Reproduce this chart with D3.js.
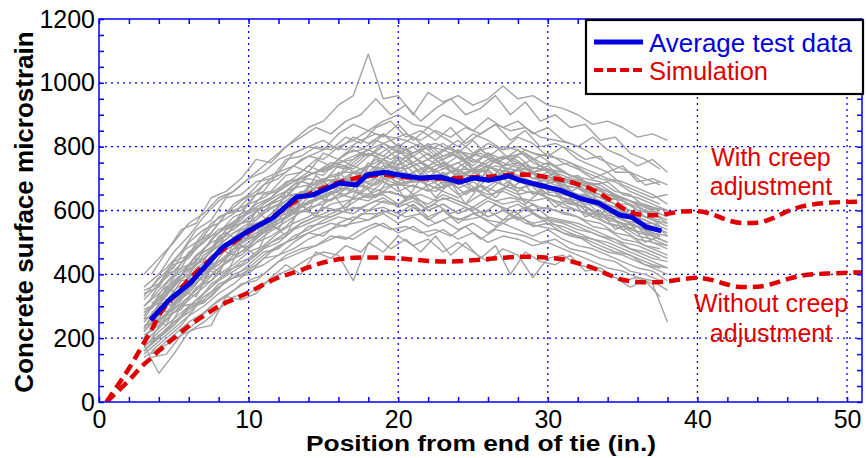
<!DOCTYPE html>
<html lang="en">
<meta charset="UTF-8">
<style>
    body { margin: 0; background: white; }
    text { font-family: "Liberation Sans", Arial, Helvetica, sans-serif; }
    .grid line { stroke: #0000ff; stroke-width: 1.3px; stroke-dasharray: 2,4; }
    .gray { fill: none; stroke: #a3a3a3; stroke-width: 1.4px; stroke-linejoin: round; }
</style>
<body>
<svg width="867" height="458" id="chart"></svg>
<script src="https://d3js.org/d3.v7.min.js"></script>
<script>
// ---- data ----
const xTicks = [0, 10, 20, 30, 40, 50];
const yTicks = [0, 200, 400, 600, 800, 1000, 1200];

// average test data (blue)
const avgX = [3.45, 4.7, 6.1, 7.4, 8.3, 10.1, 11.6, 13.2, 14.3, 16.1, 17.2, 17.9, 19.1, 20.1, 21.4, 22.8, 24.1, 25.1, 26.1, 27.4, 28.1, 29.4, 30.8, 32.1, 33.4, 34.8, 35.6, 36.6, 37.6];
const avgY = [257, 320, 373, 440, 486, 539, 576, 642, 649, 686, 680, 711, 720, 711, 702, 705, 689, 702, 695, 708, 695, 680, 664, 639, 623, 586, 579, 548, 536];

// simulation curves (red dashed)
const simX = [0.5, 1, 2, 3, 3.5, 4, 5, 6, 7, 8, 9, 10, 11, 12, 13, 14, 15, 16, 17, 18, 19, 20, 21, 22, 23, 24, 25, 26, 27, 28, 29, 30, 31, 32, 33, 34, 35, 36, 37, 38, 39, 40, 41, 42, 43, 44, 45, 46, 47, 48, 49, 50, 51];
const simCreep = [0, 35, 105, 185, 225, 270, 330, 383, 428, 467, 500, 532, 562, 592, 625, 650, 670, 688, 700, 708, 712, 707, 702, 700, 700, 702, 704, 706, 710, 713, 711, 704, 695, 682, 665, 638, 608, 588, 585, 590, 597, 598, 588, 570, 561, 562, 575, 597, 613, 621, 625, 627, 628];
const simNoCreep = [0, 22, 68, 118, 138, 160, 200, 238, 270, 300, 322, 343, 368, 390, 405, 422, 437, 447, 452, 453, 452, 450, 446, 442, 440, 441, 444, 448, 452, 455, 455, 452, 447, 435, 420, 400, 383, 376, 375, 378, 385, 389, 382, 368, 360, 361, 370, 385, 396, 401, 403, 405, 406];

// individual gage readings (gray), gages on whole-inch positions
const grayX = [3, 4, 5, 6, 7, 8, 9, 10, 11, 12, 13, 14, 15, 16, 17, 18, 19, 20, 21, 22, 23, 24, 25, 26, 27, 28, 29, 30, 31, 32, 33, 34, 35, 36, 37, 38];
const gray01 = [360, 400, 470, 520, 580, 630, 660, 700, 740, 780, 820, 860, 880, 930, 960, 1090, 950, 960, 900, 970, 940, 960, 930, 950, 990, 950, 960, 930, 920, 900, 870, 880, 860, 830, 840, 820];
const gray02 = [330, 390, 420, 500, 540, 560, 620, 650, 700, 720, 780, 800, 790, 840, 870, 850, 880, 900, 870, 860, 900, 880, 850, 890, 860, 880, 840, 860, 820, 800, 830, 790, 770, 740, 760, 720];
const gray03 = [300, 350, 400, 470, 500, 560, 590, 640, 660, 720, 740, 770, 760, 800, 820, 850, 830, 870, 820, 860, 830, 800, 840, 820, 790, 830, 810, 770, 800, 760, 740, 720, 740, 690, 700, 680];
const gray04 = [350, 370, 440, 460, 520, 580, 600, 620, 680, 700, 740, 720, 780, 760, 800, 790, 840, 800, 830, 790, 810, 780, 820, 770, 800, 790, 760, 780, 750, 730, 700, 720, 680, 660, 640, 650];
const gray05 = [280, 320, 390, 430, 480, 530, 560, 620, 640, 670, 700, 740, 720, 760, 790, 770, 810, 780, 800, 760, 790, 770, 740, 780, 760, 790, 750, 730, 720, 700, 680, 690, 650, 640, 620, 600];
const gray06 = [260, 330, 360, 430, 440, 520, 540, 580, 610, 640, 680, 700, 690, 740, 730, 770, 800, 760, 770, 740, 760, 780, 730, 750, 770, 740, 760, 720, 700, 710, 670, 660, 640, 620, 600, 580];
const gray07 = [250, 300, 370, 400, 460, 490, 530, 560, 600, 620, 670, 680, 700, 710, 740, 720, 760, 740, 770, 730, 750, 720, 760, 740, 720, 750, 720, 700, 690, 680, 650, 630, 610, 590, 570, 560];
const gray08 = [230, 290, 330, 390, 430, 480, 510, 550, 570, 610, 650, 660, 690, 700, 690, 740, 730, 760, 720, 740, 710, 730, 700, 740, 710, 730, 700, 690, 670, 650, 640, 610, 590, 570, 550, 530];
const gray09 = [220, 270, 330, 350, 420, 470, 500, 520, 560, 590, 620, 650, 660, 680, 700, 690, 720, 700, 710, 690, 720, 680, 700, 690, 720, 690, 680, 670, 650, 640, 620, 600, 570, 560, 530, 520];
const gray10 = [240, 250, 300, 360, 390, 440, 480, 510, 530, 580, 600, 620, 650, 660, 680, 670, 700, 680, 690, 700, 670, 690, 660, 700, 680, 660, 690, 650, 640, 620, 600, 570, 560, 530, 520, 500];
const gray11 = [200, 260, 290, 330, 380, 420, 460, 480, 520, 550, 580, 610, 620, 650, 640, 670, 660, 690, 650, 680, 660, 640, 670, 650, 660, 640, 630, 640, 610, 600, 580, 560, 540, 510, 500, 480];
const gray12 = [190, 230, 280, 320, 360, 400, 430, 470, 490, 530, 560, 580, 610, 600, 640, 630, 660, 650, 640, 620, 650, 630, 610, 640, 620, 630, 600, 610, 590, 580, 550, 540, 510, 500, 480, 460];
const gray13 = [170, 220, 260, 300, 340, 380, 410, 440, 480, 500, 540, 560, 580, 600, 590, 620, 640, 610, 630, 600, 620, 590, 610, 580, 600, 620, 590, 570, 560, 540, 530, 510, 490, 470, 450, 440];
const gray14 = [160, 200, 250, 280, 330, 360, 400, 420, 460, 490, 510, 550, 560, 580, 570, 600, 610, 590, 620, 580, 600, 570, 590, 600, 570, 580, 560, 570, 540, 520, 510, 490, 470, 450, 430, 420];
const gray15 = [150, 190, 230, 270, 300, 340, 370, 410, 430, 460, 480, 510, 530, 550, 560, 570, 590, 560, 580, 550, 570, 540, 560, 530, 560, 540, 520, 540, 510, 490, 480, 460, 440, 420, 410, 380];
const gray16 = [140, 170, 210, 250, 280, 320, 350, 380, 400, 440, 460, 480, 500, 520, 510, 540, 560, 530, 550, 520, 540, 510, 530, 500, 520, 510, 490, 500, 480, 460, 440, 420, 410, 390, 380, 350];
const gray17 = [180, 90, 150, 220, 250, 290, 330, 340, 370, 400, 420, 450, 470, 460, 380, 500, 470, 520, 490, 510, 470, 500, 470, 440, 480, 460, 390, 450, 460, 430, 420, 400, 380, 390, 370, 250];
const gray18 = [400, 450, 500, 560, 590, 640, 660, 700, 720, 760, 780, 800, 820, 790, 830, 810, 840, 800, 780, 810, 770, 790, 760, 740, 770, 750, 720, 740, 700, 690, 660, 640, 630, 600, 590, 560];
const gray19 = [210, 240, 280, 330, 370, 420, 450, 490, 530, 560, 600, 640, 660, 690, 720, 740, 760, 790, 770, 800, 790, 820, 780, 810, 790, 800, 780, 770, 760, 740, 720, 700, 690, 670, 650, 620];
const gray20 = [320, 370, 410, 460, 500, 540, 560, 600, 610, 640, 650, 660, 640, 670, 660, 640, 650, 620, 640, 600, 620, 590, 610, 580, 600, 570, 590, 560, 550, 530, 510, 500, 480, 460, 440, 420];
const gray21 = [270, 330, 310, 400, 380, 480, 460, 560, 530, 620, 590, 680, 640, 720, 680, 750, 700, 760, 690, 740, 680, 720, 660, 730, 680, 710, 650, 680, 630, 620, 580, 600, 540, 550, 500, 490];
const gray22 = [230, 310, 300, 370, 420, 400, 500, 480, 560, 540, 630, 600, 690, 660, 720, 700, 760, 720, 740, 700, 750, 700, 730, 690, 740, 700, 720, 660, 690, 640, 630, 590, 600, 560, 560, 520];
const gray23 = [180, 200, 240, 300, 310, 360, 390, 400, 450, 460, 500, 530, 520, 560, 580, 570, 600, 580, 610, 570, 600, 560, 590, 570, 560, 590, 550, 560, 530, 520, 490, 470, 460, 440, 420, 400];
const gray24 = [300, 340, 380, 420, 470, 500, 550, 570, 620, 650, 670, 710, 730, 750, 760, 790, 770, 810, 780, 800, 760, 790, 750, 780, 740, 770, 730, 750, 720, 700, 680, 660, 630, 610, 590, 570];
const gray25 = [260, 280, 350, 380, 410, 470, 490, 540, 550, 600, 610, 660, 680, 670, 720, 710, 740, 730, 750, 720, 740, 710, 730, 720, 700, 730, 700, 710, 680, 670, 640, 620, 600, 580, 560, 540];
const gray26 = [200, 250, 310, 340, 400, 430, 470, 500, 540, 560, 590, 600, 630, 640, 660, 650, 690, 660, 680, 660, 690, 650, 670, 640, 670, 650, 660, 640, 620, 600, 590, 560, 550, 520, 510, 490];
const gray27 = [340, 360, 430, 450, 510, 530, 580, 600, 650, 660, 690, 720, 710, 760, 740, 780, 760, 790, 750, 780, 740, 770, 730, 760, 740, 750, 720, 730, 700, 690, 680, 650, 640, 620, 610, 600];
const gray28 = [160, 210, 240, 290, 320, 370, 390, 430, 470, 480, 520, 540, 570, 590, 610, 600, 630, 620, 650, 610, 640, 620, 600, 630, 610, 590, 620, 580, 570, 560, 540, 520, 500, 490, 470, 450];
const gray29 = [290, 310, 360, 410, 450, 490, 530, 550, 590, 620, 640, 670, 700, 690, 720, 740, 730, 770, 740, 760, 730, 750, 720, 740, 710, 730, 700, 720, 680, 670, 650, 630, 610, 590, 570, 550];
const gray30 = [220, 280, 290, 350, 400, 430, 480, 490, 540, 570, 590, 630, 640, 660, 690, 670, 710, 690, 720, 680, 700, 670, 690, 660, 700, 670, 680, 650, 640, 630, 600, 580, 560, 550, 520, 500];

// gages on half-inch positions
const grayHalfX = [3.5, 4.5, 5.5, 6.5, 7.5, 8.5, 9.5, 10.5, 11.5, 12.5, 13.5, 14.5, 15.5, 16.5, 17.5, 18.5, 19.5, 20.5, 21.5, 22.5, 23.5, 24.5, 25.5, 26.5, 27.5, 28.5, 29.5, 30.5, 31.5, 32.5, 33.5, 34.5, 35.5, 36.5, 37.5];
const half01 = [400, 470, 540, 560, 640, 660, 700, 760, 750, 800, 830, 860, 840, 880, 900, 950, 900, 930, 880, 920, 950, 900, 920, 960, 900, 940, 880, 900, 860, 870, 820, 830, 780, 760, 730];
const half02 = [380, 420, 470, 540, 570, 640, 650, 690, 700, 760, 770, 800, 790, 830, 810, 860, 880, 830, 850, 820, 860, 810, 840, 870, 820, 850, 800, 810, 790, 760, 770, 720, 720, 680, 690];
const half03 = [330, 400, 420, 500, 530, 590, 600, 650, 660, 710, 720, 760, 740, 780, 790, 820, 800, 790, 810, 770, 800, 760, 790, 800, 760, 790, 770, 740, 750, 720, 700, 690, 660, 640, 620];
const half04 = [300, 370, 420, 440, 510, 550, 580, 610, 640, 690, 700, 720, 740, 730, 770, 780, 760, 790, 750, 770, 740, 760, 780, 750, 770, 740, 730, 720, 700, 690, 680, 650, 630, 620, 600];
const half05 = [310, 330, 400, 430, 470, 540, 560, 570, 620, 640, 690, 680, 710, 720, 720, 760, 740, 730, 750, 720, 740, 710, 740, 730, 720, 730, 710, 700, 690, 660, 650, 620, 620, 580, 570];
const half06 = [260, 320, 350, 420, 450, 490, 540, 540, 590, 610, 660, 640, 690, 680, 700, 730, 700, 720, 690, 710, 680, 710, 690, 700, 720, 690, 690, 660, 660, 620, 620, 590, 580, 550, 540];
const half07 = [250, 270, 340, 370, 430, 450, 510, 520, 540, 600, 610, 640, 630, 670, 660, 700, 680, 680, 670, 660, 690, 650, 680, 660, 680, 660, 650, 630, 620, 610, 580, 570, 540, 530, 510];
const half08 = [200, 270, 290, 360, 380, 440, 460, 500, 520, 550, 600, 590, 620, 630, 640, 650, 660, 640, 650, 630, 640, 620, 650, 630, 640, 630, 610, 600, 590, 570, 560, 530, 520, 490, 480];
const half09 = [190, 220, 300, 310, 370, 400, 440, 460, 500, 520, 560, 580, 580, 600, 610, 630, 620, 620, 600, 620, 590, 610, 580, 620, 590, 610, 580, 570, 560, 540, 520, 510, 480, 470, 450];
const half10 = [160, 200, 240, 300, 330, 380, 400, 430, 470, 500, 520, 540, 560, 550, 590, 590, 600, 580, 590, 560, 580, 570, 580, 550, 590, 560, 550, 540, 520, 510, 490, 470, 460, 430, 420];
const half11 = [140, 150, 210, 250, 300, 330, 370, 380, 420, 460, 480, 490, 520, 510, 540, 560, 540, 550, 530, 540, 520, 550, 510, 540, 530, 520, 500, 510, 480, 470, 450, 440, 410, 400, 380];
const half12 = [250, 360, 330, 450, 440, 530, 500, 600, 560, 660, 630, 710, 670, 740, 700, 770, 720, 770, 710, 760, 720, 750, 700, 760, 710, 750, 690, 720, 660, 680, 620, 640, 580, 600, 550];
const half13 = [260, 240, 350, 330, 420, 400, 490, 460, 560, 520, 620, 580, 660, 600, 690, 640, 710, 630, 700, 640, 690, 620, 680, 640, 690, 620, 660, 610, 640, 580, 600, 540, 560, 500, 520];
const half14 = [360, 410, 470, 500, 560, 590, 630, 660, 700, 720, 760, 780, 800, 790, 820, 840, 830, 820, 800, 810, 790, 780, 770, 760, 740, 730, 700, 690, 660, 640, 610, 590, 560, 540, 520];
const half15 = [180, 230, 270, 320, 360, 410, 430, 470, 500, 530, 560, 580, 600, 610, 640, 660, 680, 690, 700, 710, 720, 730, 720, 740, 730, 720, 710, 700, 690, 680, 660, 640, 630, 600, 590];
const half16 = [150, 180, 210, 230, 240, 330, 320, 340, 390, 430, 400, 470, 450, 490, 470, 520, 480, 510, 470, 520, 460, 500, 450, 490, 400, 470, 440, 430, 460, 410, 420, 390, 360, 380, 330];
const half17 = [300, 340, 400, 460, 500, 520, 580, 600, 620, 660, 700, 720, 730, 760, 780, 800, 820, 840, 820, 850, 830, 860, 840, 870, 850, 860, 830, 820, 810, 790, 760, 740, 720, 700, 680];
const half18 = [280, 310, 380, 390, 460, 480, 520, 560, 570, 620, 640, 670, 670, 700, 690, 720, 740, 710, 730, 690, 720, 700, 730, 690, 720, 700, 680, 690, 650, 650, 620, 610, 580, 570, 550];
const half19 = [220, 300, 320, 400, 420, 480, 500, 530, 560, 580, 620, 630, 660, 650, 690, 680, 710, 690, 690, 670, 680, 690, 660, 690, 670, 700, 650, 660, 620, 630, 590, 580, 560, 540, 510];
const half20 = [290, 350, 400, 460, 480, 540, 570, 620, 640, 680, 700, 720, 750, 740, 780, 770, 800, 770, 790, 760, 780, 750, 790, 760, 770, 780, 750, 740, 710, 700, 690, 660, 650, 610, 600];

const graySeries = [gray01, gray02, gray03, gray04, gray05, gray06, gray07, gray08, gray09, gray10,
    gray11, gray12, gray13, gray14, gray15, gray16, gray17, gray18, gray19, gray20,
    gray21, gray22, gray23, gray24, gray25, gray26, gray27, gray28, gray29, gray30];
const grayHalfSeries = [half01, half02, half03, half04, half05, half06, half07, half08, half09, half10,
    half11, half12, half13, half14, half15, half16, half17, half18, half19, half20];

// ---- layout ----
const svg = d3.select('#chart');
const width = 867, height = 458;
const margin = {top: 19, right: 5, bottom: 56, left: 99};
const innerWidth = width - margin.left - margin.right;
const innerHeight = height - margin.top - margin.bottom;

const x = d3.scaleLinear().domain([0, 51]).range([0, innerWidth]);
const y = d3.scaleLinear().domain([0, 1200]).range([innerHeight, 0]);

svg.append('defs').append('clipPath').attr('id', 'clip')
    .append('rect').attr('width', innerWidth).attr('height', innerHeight);

const g = svg.append('g')
    .attr('transform', `translate(${margin.left},${margin.top})`);

// grid
const grid = g.append('g').attr('class', 'grid');
grid.selectAll('.gx').data(xTicks.filter(d => d > 0)).enter().append('line')
    .attr('x1', d => x(d)).attr('x2', d => x(d))
    .attr('y1', 0).attr('y2', innerHeight);
grid.selectAll('.gy').data(yTicks.filter(d => d > 0 && d < 1200)).enter().append('line')
    .attr('y1', d => y(d)).attr('y2', d => y(d))
    .attr('x1', 0).attr('x2', innerWidth);

const plot = g.append('g').attr('clip-path', 'url(#clip)');

// gray lines
const grayLine = xs => d3.line().x((d, i) => x(xs[i])).y(d => y(d));
plot.selectAll('.grayA').data(graySeries).enter().append('path')
    .attr('class', 'gray')
    .attr('d', grayLine(grayX));
plot.selectAll('.grayB').data(grayHalfSeries).enter().append('path')
    .attr('class', 'gray')
    .attr('d', grayLine(grayHalfX));

// simulations
const simLine = d3.line().x((d, i) => x(simX[i])).y(d => y(d)).curve(d3.curveMonotoneX);
[simCreep, simNoCreep].forEach(s => {
    plot.append('path')
        .attr('d', simLine(s))
        .attr('fill', 'none')
        .attr('stroke', '#e00000')
        .attr('stroke-width', 4.5)
        .attr('stroke-dasharray', '11,6');
});

// average
const avgLine = d3.line().x((d, i) => x(avgX[i])).y(d => y(d));
plot.append('path')
    .attr('d', avgLine(avgY))
    .attr('fill', 'none')
    .attr('stroke', '#0000dd')
    .attr('stroke-width', 5)
    .attr('stroke-linejoin', 'round');

// axes (ticks inward on all four sides)
const axisColor = '#0000ff';
const xMinor = d3.range(0, 52, 2);
const yMinor = d3.range(0, 1201, 50);

function styleAxis(sel) {
    sel.select('.domain').remove();
    sel.selectAll('line').attr('stroke', axisColor).attr('stroke-width', 1.5);
    sel.selectAll('text').attr('fill', 'black').attr('font-size', '25px');
}
function minorOnly(sel) {
    styleAxis(sel);
    sel.selectAll('text').remove();
}

g.append('g').attr('transform', `translate(0,${innerHeight})`)
    .call(d3.axisBottom(x).tickValues(xMinor).tickSize(-5))
    .call(minorOnly);
g.append('g').attr('transform', `translate(0,${innerHeight})`)
    .call(d3.axisBottom(x).tickValues(xTicks).tickSize(0).tickPadding(8).tickFormat(d3.format('d')))
    .call(styleAxis);
g.append('g')
    .call(d3.axisTop(x).tickValues(xMinor).tickSize(-5))
    .call(minorOnly);
g.append('g')
    .call(d3.axisLeft(y).tickValues(yMinor).tickSize(-5))
    .call(minorOnly);
g.append('g')
    .call(d3.axisLeft(y).tickValues(yTicks).tickSize(0).tickPadding(4).tickFormat(d3.format('d')))
    .call(styleAxis);
g.append('g').attr('transform', `translate(${innerWidth},0)`)
    .call(d3.axisRight(y).tickValues(yMinor).tickSize(-5))
    .call(minorOnly);

// frame
g.append('rect')
    .attr('width', innerWidth).attr('height', innerHeight)
    .attr('fill', 'none').attr('stroke', axisColor).attr('stroke-width', 1.5);

// axis titles
svg.append('text')
    .attr('transform', 'translate(33,212) rotate(-90)')
    .attr('text-anchor', 'middle')
    .attr('font-size', '26px').attr('font-weight', 'bold')
    .text('Concrete surface microstrain');
svg.append('text')
    .attr('x', 481).attr('y', 451)
    .attr('text-anchor', 'middle')
    .attr('font-size', '22px').attr('font-weight', 'bold')
    .attr('textLength', 350).attr('lengthAdjust', 'spacingAndGlyphs')
    .text('Position from end of tie (in.)');

// legend
const lg = svg.append('g');
lg.append('rect')
    .attr('x', 586).attr('y', 20).attr('width', 277).attr('height', 74)
    .attr('fill', 'white').attr('stroke', 'black').attr('stroke-width', 2.2);
lg.append('line').attr('x1', 594).attr('x2', 643).attr('y1', 42).attr('y2', 42)
    .attr('stroke', '#0000dd').attr('stroke-width', 5);
lg.append('text').attr('x', 649).attr('y', 52)
    .attr('font-size', '25px').attr('fill', '#0000dd')
    .attr('textLength', 203).attr('lengthAdjust', 'spacingAndGlyphs')
    .text('Average test data');
lg.append('line').attr('x1', 594).attr('x2', 643).attr('y1', 70).attr('y2', 70)
    .attr('stroke', '#e00000').attr('stroke-width', 4).attr('stroke-dasharray', '9,4');
lg.append('text').attr('x', 649).attr('y', 80)
    .attr('font-size', '25px').attr('fill', '#e00000')
    .attr('textLength', 119).attr('lengthAdjust', 'spacingAndGlyphs')
    .text('Simulation');

// annotations
const notes = [
    {t: 'With creep', y: 166},
    {t: 'adjustment', y: 195},
    {t: 'Without creep', y: 312},
    {t: 'adjustment', y: 342}
];
svg.selectAll('.note').data(notes).enter().append('text')
    .attr('x', 771).attr('y', d => d.y)
    .attr('text-anchor', 'middle')
    .attr('font-size', '25px').attr('fill', '#e00000')
    .text(d => d.t);
</script>
</body>
</html>
